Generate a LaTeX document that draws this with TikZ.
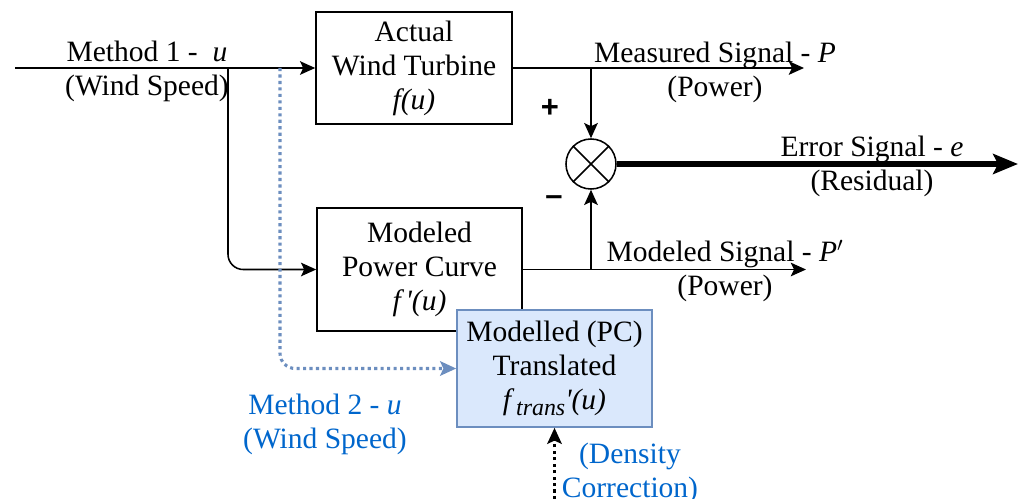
\documentclass[tikz,border=0pt]{standalone}
\usepackage{fontspec}
\setmainfont{Liberation Serif}
\newfontfamily\signfont{Liberation Sans}
\usepackage{xcolor}
\usepackage{tikz}
\usetikzlibrary{arrows.meta,positioning,calc}
\definecolor{transfill}{HTML}{DAE8FC}
\definecolor{transdraw}{HTML}{6C8EBF}
\definecolor{methodblue}{HTML}{0066CC}

\begin{document}
\begin{tikzpicture}[x=0.025cm,y=-0.025cm,
   font=\fontsize{21}{24.2}\selectfont,
   blk/.style={draw,line width=1.1pt,align=center,inner sep=0pt},
   lab/.style={align=center,inner sep=0pt},
   arr/.style={line width=1.1pt,-{Stealth[length=0.38cm,width=0.34cm,inset=0.08cm]}},
   bigarr/.style={line width=3.6pt,-{Stealth[length=0.62cm,width=0.5cm,inset=0.12cm]}},
   dotarr/.style={line width=2.2pt,dash pattern=on 2.2pt off 2.4pt,
                  -{Stealth[length=0.4cm,width=0.36cm,inset=0.08cm]}}]
  \useasboundingbox (0,0) rectangle (1027,499);
  \node[blk,minimum width=4.9cm,minimum height=2.8cm] (act) at (414,68)
       {Actual\\Wind Turbine\\\textit{f(u)}};
  \node[blk,minimum width=5.125cm,minimum height=3.075cm] (mod) at (419.5,269.5)
       {Modeled\\Power Curve\\\textit{f\,\textquotesingle(u)}};
  \node[blk,draw=transdraw,fill=transfill,minimum width=4.875cm,minimum height=2.925cm]
       (trans) at (554.5,368.5)
       {Modelled (PC)\\Translated\\\textit{f\,\raisebox{-0.4ex}{\fontsize{17}{17}\selectfont trans}\textquotesingle(u)}};
  \node[draw,circle,line width=1.1pt,minimum size=1.25cm,inner sep=0pt] (sum) at (591,164) {};
  \draw[line width=1.1pt] (sum.north west) -- (sum.south east)
                          (sum.north east) -- (sum.south west);
  \coordinate (in) at (15,68);
  \coordinate (split) at (228,68);
  \coordinate (split2) at (280,68);
  \coordinate (pout) at (804,68);
  \coordinate (pmout) at (806,269.5);
  \coordinate (eout) at (1018,164);
  \coordinate (dens) at (554.5,499);
  \draw[arr] (in) -- (act);
  \draw[arr,rounded corners=0.38cm] (split) |- (mod);
  \draw[dotarr,transdraw,rounded corners=0.38cm] (split2) |- (trans);
  \draw[arr] (act) -- (pout);
  \draw[arr] (act.east -| sum) -- (sum);
  \draw[arr] (mod) -- (pmout);
  \draw[arr] (mod.east -| sum) -- (sum);
  \draw[bigarr] (sum) -- (eout);
  \draw[dotarr] (dens) -- (trans);
  \node[font=\signfont\bfseries\fontsize{22}{22}\selectfont] (plus) at (550,108) {+};
  \node[font=\signfont\bfseries\fontsize{22}{22}\selectfont] (minus) at (554,201) {\textendash};
  \node[lab] (m1lab) at (147,71) {Method 1 -\ \ \textit{u}\\(Wind Speed)};
  \node[lab] (measlab) at (715,72) {Measured Signal - \textit{P}\\(Power)};
  \node[lab] (errlab) at (872,166) {Error Signal - \textit{e}\\(Residual)};
  \node[lab] (modlab) at (725,271) {Modeled Signal - \textit{P}$'$\\(Power)};
  \node[lab,text=methodblue] (m2lab) at (325,424) {Method 2 - \textit{u}\\(Wind Speed)};
  \node[lab,text=methodblue] (denslab) at (630,473) {(Density\\Correction)};
\end{tikzpicture}
\end{document}
